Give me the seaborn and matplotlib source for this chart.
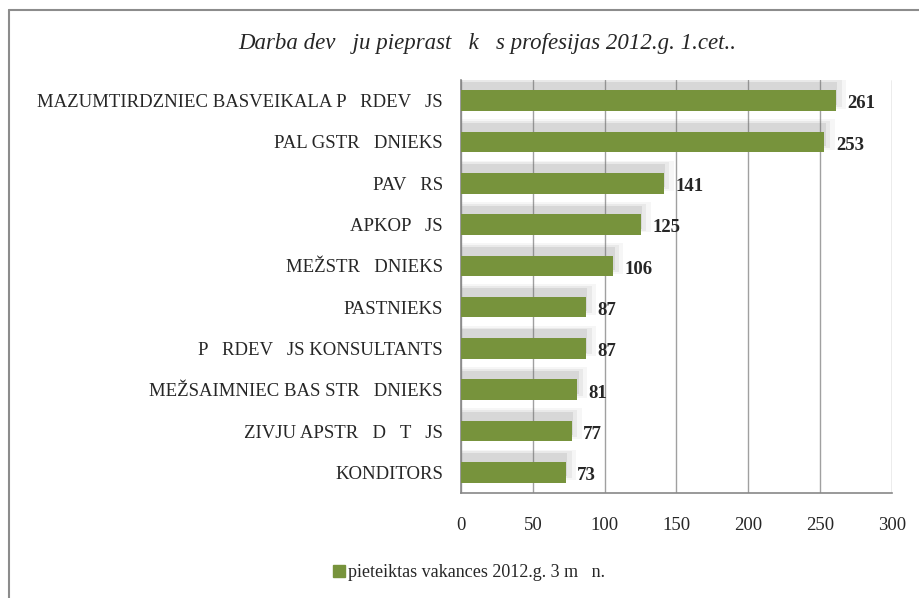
import numpy as np
import pandas as pd
import matplotlib
matplotlib.use('Agg')
import matplotlib.pyplot as plt
import seaborn as sns

# dati
profesijas = ['MAZUMTIRDZNIEC BASVEIKALA P   RDEV   JS', 'PAL GSTR   DNIEKS', 'PAV   RS',
              'APKOP   JS', 'MEŽSTR   DNIEKS', 'PASTNIEKS', 'P   RDEV   JS KONSULTANTS',
              'MEŽSAIMNIEC BAS STR   DNIEKS', 'ZIVJU APSTR   D   T   JS', 'KONDITORS']
vakances = [261, 253, 141, 125, 106, 87, 87, 81, 77, 73]
x_ticks = [0, 50, 100, 150, 200, 250, 300]
virsraksts = 'Darba dev   ju pieprast   k   s profesijas 2012.g. 1.cet..'
serija = 'pieteiktas vakances 2012.g. 3 m   n.'

df = pd.DataFrame({'profesija': profesijas, 'vakances': vakances})

sns.set_style('white')
plt.rcParams['font.family'] = ['Liberation Serif', 'DejaVu Serif']

fig = plt.figure(figsize=(9.19, 5.98), dpi=100)
ax = fig.add_axes([0.5016, 0.1756, 0.4690, 0.6906])

# ēna aiz stabiņiem
y = np.arange(len(vakances))
for grow, a in [(8, 0.06), (5, 0.09), (2, 0.14)]:
    ax.barh(y - 0.18, np.array(vakances) + grow, height=0.5 + grow * 0.03, left=-1,
            color='#6f6f6f', alpha=a, zorder=1, linewidth=0)

sns.barplot(data=df, y='profesija', x='vakances', orient='h', color='#77933C',
            width=0.5, saturation=1, ax=ax, zorder=3, linewidth=0, legend=False)

for i, v in enumerate(vakances):
    ax.text(v + 8, i + 0.08, str(v), va='center', ha='left', fontsize=13.5,
            fontweight='bold', zorder=4)

ax.set_xlim(0, 300)
ax.set_xticks(x_ticks)
ax.set_ylim(len(vakances) - 0.5, -0.5)
ax.grid(axis='x', color='#a0a0a0', linewidth=1.0, zorder=0)
ax.set_axisbelow(True)
for s in ['top', 'right']:
    ax.spines[s].set_visible(False)
for s in ['left', 'bottom']:
    ax.spines[s].set_color('#888888')
    ax.spines[s].set_linewidth(1.2)
ax.set_xlabel('')
ax.set_ylabel('')
ax.tick_params(axis='x', labelsize=13.5, pad=17, length=0)
ax.tick_params(axis='y', labelsize=13.5, pad=13, length=0)

fig.text(0.53, 0.928, virsraksts, ha='center', va='center', fontsize=16.5, style='italic')

leg_patch = plt.Rectangle((0, 0), 1, 1, color='#77933C')
fig.legend([leg_patch], [serija], loc='center', bbox_to_anchor=(0.51, 0.042), frameon=False,
           fontsize=13, handlelength=0.7, handleheight=0.7, handletextpad=0.15)

# ārējais rāmis
fig.add_artist(plt.Line2D([0.0098, 0.0098], [0, 0.984], color='#8c8c8c', linewidth=1.5))
fig.add_artist(plt.Line2D([0.0098, 1.0], [0.984, 0.984], color='#8c8c8c', linewidth=1.5))

plt.savefig('out.png', dpi=100)
